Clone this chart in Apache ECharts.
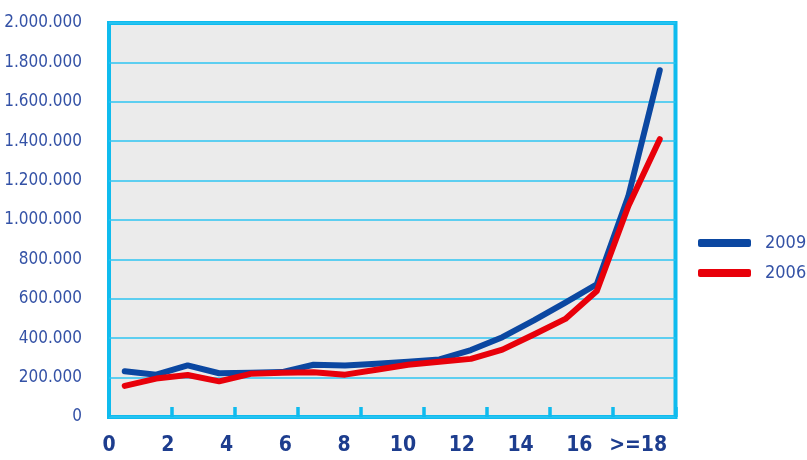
<!DOCTYPE html>
<html>
<head>
<meta charset="utf-8">
<script src="https://cdn.jsdelivr.net/npm/echarts@6/dist/echarts.min.js"></script>
<style>
html,body{margin:0;padding:0;background:#fff;}
#chart{width:807px;height:460px;}
</style>
</head>
<body>
<div id="chart"></div>
<script>
// Data
var categories = ['0','1','2','3','4','5','6','7','8','9','10','11','12','13','14','15','16','>=18'];
var series2009 = [232000, 215000, 262000, 222000, 225000, 228000, 265000, 261000, 270000, 280000, 292000, 340000, 405000, 490000, 581000, 674000, 1120000, 1760000];
var series2006 = [158000, 195000, 213000, 181000, 219000, 224000, 227000, 215000, 240000, 265000, 280000, 295000, 342000, 419000, 498000, 640000, 1070000, 1410000];
var yTickLabels = ['0','200.000','400.000','600.000','800.000','1.000.000','1.200.000','1.400.000','1.600.000','1.800.000','2.000.000'];
var xTickLabels = ['0','2','4','6','8','10','12','14','16','>=18'];

var cyan = '#0fbbee';
var condensed = '"DejaVu Sans Condensed","Liberation Sans Narrow",sans-serif';
var chart = echarts.init(document.getElementById('chart'));
chart.setOption({
  animation: false,
  backgroundColor: '#ffffff',
  grid: {
    left: 109, right: 131.5, top: 23, bottom: 43,
    outerBoundsMode: 'none',
    containLabel: false,
    show: true, backgroundColor: '#ebebeb',
    borderColor: cyan, borderWidth: 4
  },
  legend: {
    orient: 'vertical',
    left: 698, top: 234,
    padding: 0,
    itemWidth: 53, itemHeight: 8,
    itemGap: 12,
    icon: 'roundRect',
    textStyle: {
      fontFamily: condensed,
      fontSize: 18, color: '#3452a6', padding: [0, 0, 0, 9]
    },
    data: ['2009', '2006']
  },
  xAxis: [{
    type: 'category',
    data: categories,
    boundaryGap: true,
    axisLine: { show: false },
    axisTick: { show: true, inside: true, length: 10, lineStyle: { color: cyan, width: 3.5 } },
    axisLabel: { show: false },
    splitLine: { show: false }
  }, {
    type: 'value',
    position: 'bottom',
    min: 0, max: 19.27, interval: 2,
    axisLine: { show: false },
    axisTick: { show: false },
    splitLine: { show: false },
    axisLabel: {
      margin: 18,
      showMaxLabel: false,
      fontFamily: condensed,
      fontWeight: 'bold', fontSize: 21, color: '#1d3d8e',
      formatter: function (v) {
        var i = Math.round(v / 2);
        return (Math.abs(v - i * 2) < 1e-6 && i < xTickLabels.length) ? xTickLabels[i] : '';
      }
    }
  }],
  yAxis: {
    type: 'value',
    min: 0, max: 2000000, interval: 200000,
    axisLine: { show: false },
    axisTick: { show: false },
    splitLine: { show: true, lineStyle: { color: '#2ec4f2', width: 1.5 } },
    axisLabel: {
      margin: 27,
      padding: [0, 0, 4, 0],
      fontFamily: condensed,
      fontSize: 17, color: '#3452a6',
      formatter: function (v) { return yTickLabels[Math.round(v / 200000)]; }
    }
  },
  series: [{
    name: '2009', type: 'line', xAxisIndex: 0,
    data: series2009, showSymbol: false, symbol: 'none',
    itemStyle: { color: '#0b47a1' },
    lineStyle: { color: '#0b47a1', width: 6, cap: 'round', join: 'round' }
  }, {
    name: '2006', type: 'line', xAxisIndex: 0,
    data: series2006, showSymbol: false, symbol: 'none',
    itemStyle: { color: '#e8000a' },
    lineStyle: { color: '#e8000a', width: 6, cap: 'round', join: 'round' }
  }]
});
</script>
</body>
</html>
